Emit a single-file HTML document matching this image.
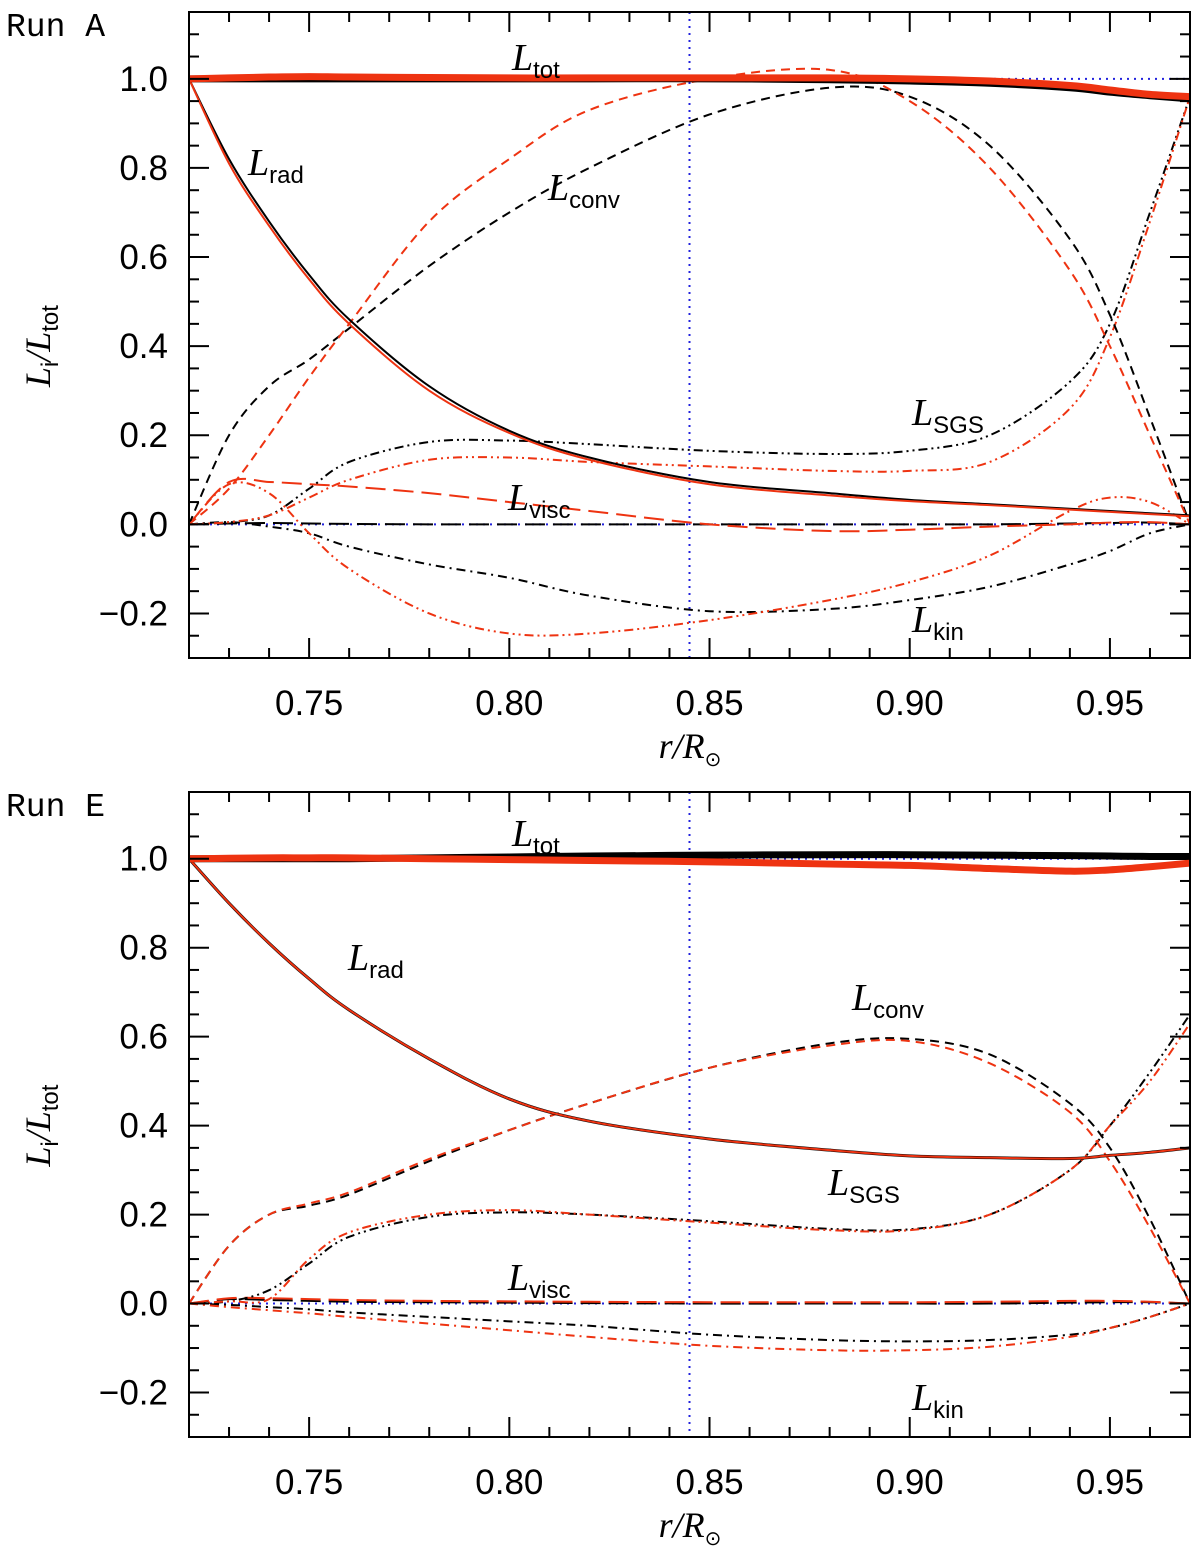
<!DOCTYPE html>
<html><head><meta charset="utf-8"><style>
body{margin:0;background:#fff;width:1200px;height:1549px;overflow:hidden}
svg{display:block}
text{fill:#000}
</style></head><body>
<svg id="chart" width="1200" height="1549"></svg>
<script>
const xs=[0.72,0.73,0.74,0.75,0.76,0.78,0.80,0.82,0.85,0.88,0.90,0.92,0.94,0.95,0.96,0.97];
// Run A
const aTotK=[1.0,1.0,1.0,1.0,1.0,1.0,1.0,1.0,1.0,0.998,0.995,0.99,0.98,0.97,0.962,0.955];
const aTotR=[1.0,1.002,1.004,1.005,1.004,1.003,1.002,1.002,1.002,1.002,1.0,0.995,0.985,0.975,0.965,0.96];
const aRadK=[1.0,0.82,0.68,0.56,0.46,0.31,0.21,0.15,0.095,0.07,0.055,0.045,0.035,0.03,0.025,0.02];
const aRadR=[1.0,0.81,0.67,0.55,0.45,0.30,0.205,0.145,0.09,0.065,0.052,0.043,0.033,0.028,0.023,0.018];
const aConvK=[0,0.2,0.31,0.37,0.44,0.58,0.70,0.80,0.92,0.98,0.96,0.85,0.64,0.47,0.24,0];
const aConvR=[0,0.08,0.20,0.33,0.45,0.68,0.82,0.93,1.0,1.02,0.95,0.80,0.57,0.40,0.2,0];
const aSgsK=[0,0.005,0.02,0.08,0.14,0.185,0.188,0.18,0.165,0.158,0.165,0.2,0.32,0.45,0.7,0.96];
const aSgsR=[0,0.005,0.02,0.06,0.10,0.145,0.15,0.14,0.13,0.12,0.12,0.14,0.26,0.42,0.68,0.96];
const aViscK=[0,0.002,0.003,0.002,0.001,0,0,0,0,0,0,0,0.002,0.003,0.004,0];
const aViscR=[0,0.095,0.095,0.09,0.085,0.07,0.05,0.03,0.0,-0.015,-0.012,-0.005,0.0,0.004,0.005,0];
const aKinK=[0,0.005,-0.005,-0.02,-0.05,-0.09,-0.12,-0.16,-0.195,-0.19,-0.17,-0.14,-0.09,-0.06,-0.02,0];
const aKinR=[0,0.09,0.07,-0.02,-0.10,-0.20,-0.245,-0.245,-0.215,-0.17,-0.13,-0.07,0.03,0.06,0.05,0];
// Run E
const eTotK=[1.0,1.0,1.0,1.0,1.0,1.002,1.004,1.006,1.008,1.009,1.009,1.008,1.007,1.006,1.005,1.005];
const eTotR=[1.0,1.001,1.002,1.002,1.002,1.0,0.998,0.996,0.993,0.988,0.985,0.978,0.972,0.975,0.982,0.99];
const eRadK=[1.0,0.9,0.81,0.73,0.66,0.55,0.46,0.41,0.37,0.345,0.332,0.328,0.326,0.333,0.34,0.35];
const eRadR=[1.0,0.9,0.81,0.73,0.66,0.55,0.46,0.41,0.37,0.345,0.332,0.328,0.326,0.333,0.34,0.35];
const eConvK=[0,0.13,0.20,0.22,0.245,0.32,0.39,0.45,0.53,0.585,0.595,0.56,0.45,0.35,0.19,0];
const eConvR=[0,0.13,0.20,0.225,0.25,0.325,0.39,0.45,0.53,0.58,0.59,0.54,0.43,0.32,0.17,0];
const eSgsK=[0,0.005,0.03,0.09,0.15,0.195,0.205,0.2,0.185,0.168,0.167,0.2,0.3,0.4,0.52,0.65];
const eSgsR=[0,0.005,0.01,0.1,0.16,0.2,0.21,0.2,0.182,0.165,0.165,0.2,0.3,0.4,0.5,0.63];
const eViscK=[0,0.01,0.008,0.006,0.004,0.003,0.002,0.001,0,0,0,0,0.002,0.003,0.003,0];
const eViscR=[0,0.012,0.012,0.01,0.008,0.006,0.005,0.004,0.003,0.003,0.003,0.004,0.006,0.006,0.004,0];
const eKinK=[0,-0.003,-0.008,-0.013,-0.02,-0.03,-0.04,-0.05,-0.07,-0.082,-0.085,-0.082,-0.07,-0.055,-0.03,0];
const eKinR=[0,-0.008,-0.015,-0.022,-0.03,-0.045,-0.06,-0.075,-0.095,-0.105,-0.105,-0.097,-0.075,-0.055,-0.03,0];
const xTicks=[0.75,0.80,0.85,0.90,0.95];
const xTickLabels=["0.75","0.80","0.85","0.90","0.95"];
const yTicks=[-0.2,0,0.2,0.4,0.6,0.8,1.0];
const yTickLabels=["\u22120.2","0.0","0.2","0.4","0.6","0.8","1.0"];

const NS="http://www.w3.org/2000/svg";
const svg=document.getElementById('chart');
function mk(tag,attrs,parent){const e=document.createElementNS(NS,tag);for(const k in attrs)e.setAttribute(k,attrs[k]);(parent||svg).appendChild(e);return e;}
const L=189,R=1190,X0=0.72,X1=0.97,YMIN=-0.3,YMAX=1.15;
const SANS='font-family:"Liberation Sans",sans-serif;';
const SERIF='font-family:"Liberation Serif",serif;font-style:italic;';
const SUB='<tspan style="font-family:\'Liberation Sans\',sans-serif;font-style:normal;font-size:24px" dy="8">';
function panel(top,bottom,name,runLabel,series,labels){
  const g=mk('g',{});
  
  
  const xp=v=>L+(v-X0)/(X1-X0)*(R-L);
  const yp=v=>bottom-(v-YMIN)/(YMAX-YMIN)*(bottom-top);
  const cid='clip'+name;
  const cp=mk('clipPath',{id:cid},g);mk('rect',{x:L,y:top,width:R-L,height:bottom-top},cp);
  const plot=mk('g',{'clip-path':'url(#'+cid+')'},g);
  const h=mk('line',{x1:L,x2:R,y1:yp(1),y2:yp(1),stroke:'#2222dd','stroke-width':2,'stroke-dasharray':'2,5'},plot);
  
  const h0=mk('line',{x1:L,x2:R,y1:yp(0),y2:yp(0),stroke:'#2222dd','stroke-width':2,'stroke-dasharray':'2,5'},plot);
  
  const v=mk('line',{x1:xp(0.845),x2:xp(0.845),y1:top,y2:bottom,stroke:'#2222dd','stroke-width':2,'stroke-dasharray':'2,5'},plot);
  
  series.forEach(s=>{
    const pts=xs.map((x,i)=>[xp(x),yp(s.v[i])]);
    let d='M'+pts[0][0]+','+pts[0][1];
    for(let i=0;i<pts.length-1;i++){
      const p0=pts[Math.max(0,i-1)],p1=pts[i],p2=pts[i+1],p3=pts[Math.min(pts.length-1,i+2)];
      const c1=[p1[0]+(p2[0]-p0[0])/6,p1[1]+(p2[1]-p0[1])/6];
      const c2=[p2[0]-(p3[0]-p1[0])/6,p2[1]-(p3[1]-p1[1])/6];
      d+=' C'+c1[0]+','+c1[1]+' '+c2[0]+','+c2[1]+' '+p2[0]+','+p2[1];
    }
    const p=mk('path',{d:d,fill:'none',stroke:s.c,'stroke-width':s.w||2,'stroke-dasharray':s.dash||'none'},plot);
    
    
  });
  const fr=mk('rect',{x:L,y:top,width:R-L,height:bottom-top,fill:'none',stroke:'#000','stroke-width':2},g);
  
  for(let k=0;k<=25;k++){const x=0.72+k*0.01;const major=(k+2)%5===0;const len=major?20:10;
    mk('line',{x1:xp(x),x2:xp(x),y1:bottom,y2:bottom-len,stroke:'#000','stroke-width':2},g);
    mk('line',{x1:xp(x),x2:xp(x),y1:top,y2:top+len,stroke:'#000','stroke-width':2},g);}
  xTicks.forEach((t,i)=>{const tx=mk('text',{x:xp(t),y:bottom+57,'text-anchor':'middle',style:SANS+'font-size:35px'},g);tx.textContent=xTickLabels[i];
    });
  for(let k=-6;k<=23;k++){const y=k*0.05;const major=k%4===0;const len=major?20:10;
    mk('line',{x1:L,x2:L+len,y1:yp(y),y2:yp(y),stroke:'#000','stroke-width':2},g);
    mk('line',{x1:R,x2:R-len,y1:yp(y),y2:yp(y),stroke:'#000','stroke-width':2},g);}
  yTicks.forEach((t,i)=>{const tx=mk('text',{x:168,y:yp(t)+12,'text-anchor':'end',style:SANS+'font-size:35px'},g);tx.textContent=yTickLabels[i];
    });
  const xt=mk('text',{x:690,y:bottom+100,'text-anchor':'middle',style:SERIF+'font-size:36px'},g);
  xt.innerHTML='r/R<tspan style="font-style:normal;font-size:20px" dy="8">\u2299</tspan>';
  
  const cy=(yp(0.4));
  const yt=mk('text',{x:0,y:0,'text-anchor':'middle',style:SERIF+'font-size:36px',transform:'translate(50,'+cy+') rotate(-90)'},g);
  yt.innerHTML='L'+SUB+'i</tspan><tspan dy="-8">/L</tspan>'+SUB+'tot</tspan>';
  
  const rl=mk('text',{x:6,y:top+24,style:'font-family:"Liberation Mono",monospace;font-size:33px'},g);rl.textContent=runLabel;
  
  labels.forEach(lb=>{const t=mk('text',{x:lb[1],y:lb[2],style:SERIF+'font-size:38px'},g);
    t.innerHTML='L'+SUB+lb[0]+'</tspan>';
    });
}
const K='#000',Rd='#ee3311';
const DS='9,6',DD='9,5,2,5',D3='9,4,2,4,2,4',LD='20,8';
panel(12,658,'panel-run-a','Run A',[
 {n:'a-kin-black',v:aKinK,c:K,dash:DD},{n:'a-kin-red',v:aKinR,c:Rd,dash:D3},
 {n:'a-visc-black',v:aViscK,c:K,dash:LD},{n:'a-visc-red',v:aViscR,c:Rd,dash:LD},
 {n:'a-sgs-black',v:aSgsK,c:K,dash:D3},{n:'a-sgs-red',v:aSgsR,c:Rd,dash:D3},
 {n:'a-conv-black',v:aConvK,c:K,dash:DS},{n:'a-conv-red',v:aConvR,c:Rd,dash:DS},
 {n:'a-rad-black',v:aRadK,c:K},{n:'a-rad-red',v:aRadR,c:Rd},
 {n:'a-tot-black',v:aTotK,c:K,w:7},{n:'a-tot-red',v:aTotR,c:Rd,w:7}],
 [['tot',512,70],['rad',248,175],['conv',548,200],['SGS',912,425],['visc',508,510],['kin',912,632]]);
panel(792,1437,'panel-run-e','Run E',[
 {n:'e-kin-black',v:eKinK,c:K,dash:DD},{n:'e-kin-red',v:eKinR,c:Rd,dash:DD},
 {n:'e-visc-black',v:eViscK,c:K,dash:LD},{n:'e-visc-red',v:eViscR,c:Rd,dash:LD},
 {n:'e-sgs-black',v:eSgsK,c:K,dash:D3},{n:'e-sgs-red',v:eSgsR,c:Rd,dash:D3},
 {n:'e-conv-black',v:eConvK,c:K,dash:DS},{n:'e-conv-red',v:eConvR,c:Rd,dash:DS},
 {n:'e-rad-black',v:eRadK,c:K,w:3},{n:'e-rad-red',v:eRadR,c:Rd},
 {n:'e-tot-black',v:eTotK,c:K,w:7},{n:'e-tot-red',v:eTotR,c:Rd,w:7}],
 [['tot',512,846],['rad',348,970],['conv',852,1010],['SGS',828,1195],['visc',508,1290],['kin',912,1410]]);
</script>
</body></html>
